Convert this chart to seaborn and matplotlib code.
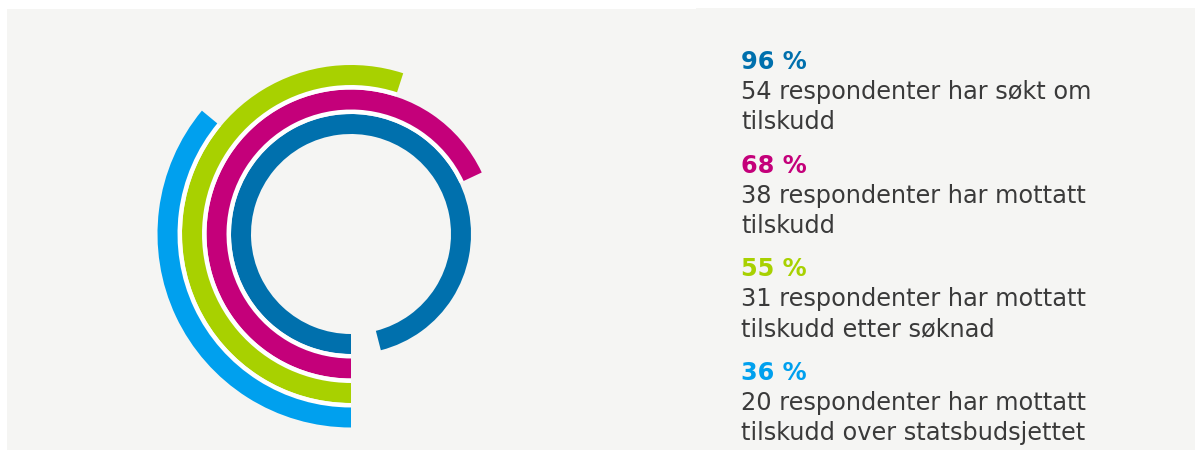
import numpy as np
import matplotlib
matplotlib.use("Agg")
import matplotlib.pyplot as plt
import seaborn as sns
from matplotlib.patches import Rectangle

# ---- data ----
percents = [96, 68, 55, 36]
counts = [54, 38, 31, 20]
descriptions = [
    "respondenter har søkt om\ntilskudd",
    "respondenter har mottatt\ntilskudd",
    "respondenter har mottatt\ntilskudd etter søknad",
    "respondenter har mottatt\ntilskudd over statsbudsjettet",
]
colors = ["#0070AD", "#C4007A", "#A8D100", "#00A0EE"]

sns.set_style("white")
plt.rcParams["font.family"] = ["DejaVu Sans"]

W, H = 1195, 450
fig = plt.figure(figsize=(W / 100, H / 100), dpi=100)
fig.patch.set_facecolor("white")

# background panel
bg = "#f5f5f3"
fig.patches.append(Rectangle((7 / W, 0), (696 - 7) / W, (H - 9) / H,
                             transform=fig.transFigure, facecolor=bg, edgecolor="none", zorder=-5))
fig.patches.append(Rectangle((696 / W, 0), (W - 696) / W, (H - 8) / H,
                             transform=fig.transFigure, facecolor=bg, edgecolor="none", zorder=-5))

# polar axes: radius in pixels
cx, cy, R = 351, 234, 200
ax = fig.add_axes([(cx - R) / W, (H - cy - R) / H, 2 * R / W, 2 * R / H], projection="polar")
ax.set_zorder(2)
ax.set_theta_zero_location("S")
ax.set_theta_direction(-1)
ax.set_ylim(0, R)
ax.set_facecolor("none")
ax.patch.set_alpha(0)
ax.grid(False)
ax.set_xticks([])
ax.set_yticks([])
ax.spines["polar"].set_visible(False)

r0, step, width, gap = 100, 24.5, 20, 4.5
for i, (p, c) in enumerate(zip(percents, colors)):
    theta_w = p / 100 * 2 * np.pi
    rin = r0 + i * step
    if i > 0:
        ax.bar(0, gap, width=theta_w, bottom=rin - gap, align="edge",
               color="white", edgecolor="none", linewidth=0)
    ax.bar(0, width, width=theta_w, bottom=rin, align="edge",
           color=c, edgecolor="none", linewidth=0)

# text block
fs = 17.3
tx = 741
for i, (p, n, d, c) in enumerate(zip(percents, counts, descriptions, colors)):
    base = 69 + i * 103.7
    fig.text(tx / W, 1 - base / H, f"{p} %", color=c, fontsize=fs,
             fontweight="bold", va="baseline", ha="left", zorder=3)
    lines = f"{n} {d}".split("\n")
    for j, ln in enumerate(lines):
        fig.text(tx / W, 1 - (base + 30 * (j + 1)) / H, ln, color="#3a3a3a",
                 fontsize=fs, va="baseline", ha="left", zorder=3)

fig.savefig("out.png", dpi=100, facecolor=fig.get_facecolor())
